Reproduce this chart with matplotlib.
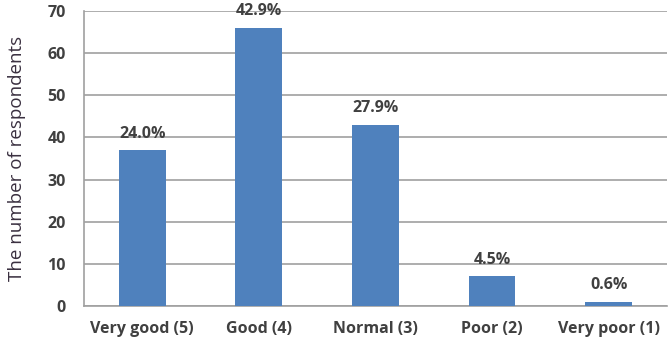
import matplotlib.pyplot as plt

# 回答者数（棒の高さ）と割合ラベル
categories = ["Very good (5)", "Good (4)", "Normal (3)", "Poor (2)", "Very poor (1)"]
counts = [37, 66, 43, 7, 1]
percent_labels = ["24.0%", "42.9%", "27.9%", "4.5%", "0.6%"]

plt.rcParams['font.family'] = ['Open Sans', 'DejaVu Sans']

fig = plt.figure(figsize=(6.71, 3.43), dpi=100)
ax = fig.add_axes([0.125, 0.108, 0.869, 0.86])

x = range(len(categories))
bars = ax.bar(x, counts, width=0.4, color='#4f81bd', zorder=3)

# 棒の上に割合を表示
for b, lab in zip(bars, percent_labels):
    ax.annotate(lab, (b.get_x() + b.get_width() / 2, b.get_height()),
                xytext=(0, 6), textcoords='offset points',
                ha='center', va='bottom', fontsize=11.5, fontweight='bold',
                color='#404040')

ax.set_xlim(-0.5, len(categories) - 0.5)
ax.set_ylim(0, 70)
ax.set_yticks(range(0, 71, 10))
ax.set_xticks(list(x))
ax.set_xticklabels(categories)
ax.grid(axis='y', color='#a0a0a0', linewidth=1.2, zorder=0)

for s in ['top', 'right']:
    ax.spines[s].set_visible(False)
for s in ['left', 'bottom']:
    ax.spines[s].set_color('#a0a0a0')
    ax.spines[s].set_linewidth(1.2)

ax.tick_params(axis='y', length=0, pad=13, labelsize=11.5, labelcolor='#404040')
ax.tick_params(axis='x', length=0, pad=11, labelsize=11.5, labelcolor='#404040')
for t in ax.get_xticklabels() + ax.get_yticklabels():
    t.set_fontweight('bold')

ax.set_ylabel("The number of respondents", fontsize=13.5, color='#3a3040', labelpad=15)

fig.savefig("out.png", dpi=100)
